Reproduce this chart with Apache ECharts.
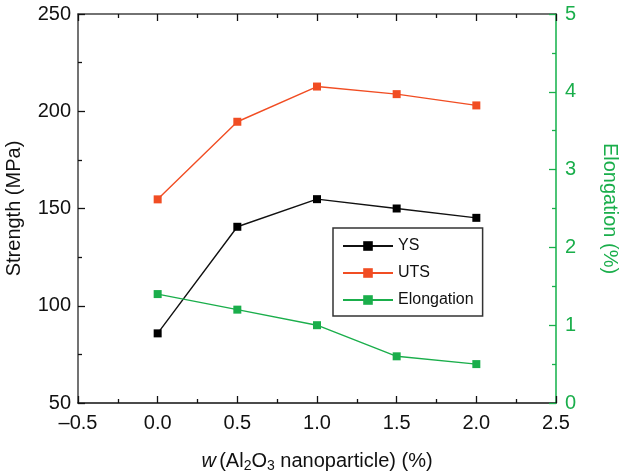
<!DOCTYPE html>
<html>
<head>
<meta charset="utf-8">
<script src="https://cdn.jsdelivr.net/npm/echarts@6/dist/echarts.min.js"></script>
<style>
  html, body { margin: 0; padding: 0; background: #fff; }
  #chart { width: 623px; height: 476px; }
</style>
</head>
<body>
<div id="chart"></div>
<script>
  // values
  const wContent = [0.0, 0.5, 1.0, 1.5, 2.0];
  const ysValues = [85.8, 140.6, 154.8, 150.0, 145.2];
  const utsValues = [154.7, 194.6, 212.7, 208.8, 203.0];
  const elongValues = [1.40, 1.20, 1.00, 0.60, 0.50];

  const FONT = 'Liberation Sans, Arial, sans-serif';
  const GREEN = '#1aae4b';
  const GREEN_AXIS = '#4cc476';
  const ORANGE = '#f14d23';

  const pairs = (vals) => wContent.map((x, i) => [x, vals[i]]);

  const chart = echarts.init(document.getElementById('chart'));

  const option = {
    animation: false,
    grid: { left: 78, right: 67, top: 14, bottom: 73, outerBoundsMode: 'none', containLabel: false },
    legend: {
      orient: 'vertical',
      left: 333,
      top: 228,
      width: 146,
      padding: [10, 9, 8, 9],
      itemGap: 11,
      itemWidth: 50,
      itemHeight: 12,
      backgroundColor: '#fff',
      borderColor: '#333',
      borderWidth: 1.5,
      borderRadius: 0,
      textStyle: { fontFamily: FONT, fontSize: 16, color: '#111' },
      data: ['YS', 'UTS', 'Elongation'],
    },
    xAxis: [
      {
        type: 'value',
        position: 'bottom',
        min: -0.5,
        max: 2.5,
        interval: 0.5,
        name: '{it|w} {n|(Al}{sub|2}{n|O}{sub|3}{n| nanoparticle) (%)}',
        nameLocation: 'middle',
        nameGap: 46,
        nameTextStyle: {
          rich: {
            it: { fontFamily: FONT, fontSize: 20, fontStyle: 'italic', color: '#111' },
            n: { fontFamily: FONT, fontSize: 20, color: '#111' },
            sub: { fontFamily: FONT, fontSize: 14, color: '#111', padding: [10, 0, 0, 0] },
          },
        },
        axisLine: { show: true, onZero: false, lineStyle: { color: '#111', width: 1.5 } },
        axisTick: { show: true, inside: true, length: 7, lineStyle: { color: '#111', width: 1.3 } },
        minorTick: { show: true, splitNumber: 2, length: 4, lineStyle: { color: '#111', width: 1.3 } },
        axisLabel: {
          fontFamily: FONT,
          fontSize: 20,
          color: '#111',
          margin: 10,
          formatter: (v) => (v < 0 ? '\u2013' + Math.abs(v).toFixed(1) : v.toFixed(1)),
        },
        splitLine: { show: false },
      },
      {
        type: 'value',
        position: 'top',
        min: -0.5,
        max: 2.5,
        interval: 0.5,
        axisLine: { show: true, onZero: false, lineStyle: { color: '#444', width: 1.5 } },
        axisTick: { show: true, inside: true, length: 7, lineStyle: { color: '#111', width: 1.3 } },
        minorTick: { show: true, splitNumber: 2, length: 4, lineStyle: { color: '#111', width: 1.3 } },
        axisLabel: { show: false },
        splitLine: { show: false },
      },
    ],
    yAxis: [
      {
        type: 'value',
        position: 'left',
        min: 50,
        max: 250,
        interval: 50,
        name: 'Strength (MPa)',
        nameLocation: 'middle',
        nameGap: 54,
        nameTextStyle: { fontFamily: FONT, fontSize: 20, color: '#111' },
        axisLine: { show: true, onZero: false, lineStyle: { color: '#444', width: 1.5 } },
        axisTick: { show: true, inside: true, length: 7, lineStyle: { color: '#111', width: 1.3 } },
        minorTick: { show: true, splitNumber: 2, length: 4, lineStyle: { color: '#111', width: 1.3 } },
        axisLabel: { fontFamily: FONT, fontSize: 20, color: '#111', margin: 7 },
        splitLine: { show: false },
      },
      {
        type: 'value',
        position: 'right',
        min: 0,
        max: 5,
        interval: 1,
        name: 'Elongation (%)',
        nameLocation: 'middle',
        nameRotate: -90,
        nameGap: 44,
        nameTextStyle: { fontFamily: FONT, fontSize: 20, color: GREEN },
        axisLine: { show: true, onZero: false, lineStyle: { color: GREEN_AXIS, width: 2 } },
        axisTick: { show: true, inside: true, length: 7, lineStyle: { color: GREEN, width: 1.3 } },
        minorTick: { show: true, splitNumber: 2, length: 4, lineStyle: { color: GREEN, width: 1.3 } },
        axisLabel: { fontFamily: FONT, fontSize: 20, color: GREEN, margin: 9 },
        splitLine: { show: false },
      },
    ],
    series: [
      {
        name: 'YS',
        type: 'line',
        xAxisIndex: 0,
        yAxisIndex: 0,
        data: pairs(ysValues),
        symbol: 'rect',
        symbolSize: 8,
        itemStyle: { color: '#000' },
        lineStyle: { color: '#111', width: 1.4 },
      },
      {
        name: 'UTS',
        type: 'line',
        xAxisIndex: 0,
        yAxisIndex: 0,
        data: pairs(utsValues),
        symbol: 'rect',
        symbolSize: 8,
        itemStyle: { color: ORANGE },
        lineStyle: { color: ORANGE, width: 1.4 },
      },
      {
        name: 'Elongation',
        type: 'line',
        xAxisIndex: 0,
        yAxisIndex: 1,
        data: pairs(elongValues),
        symbol: 'rect',
        symbolSize: 8,
        itemStyle: { color: GREEN },
        lineStyle: { color: GREEN, width: 1.4 },
      },
    ],
  };

  chart.setOption(option);
</script>
</body>
</html>
